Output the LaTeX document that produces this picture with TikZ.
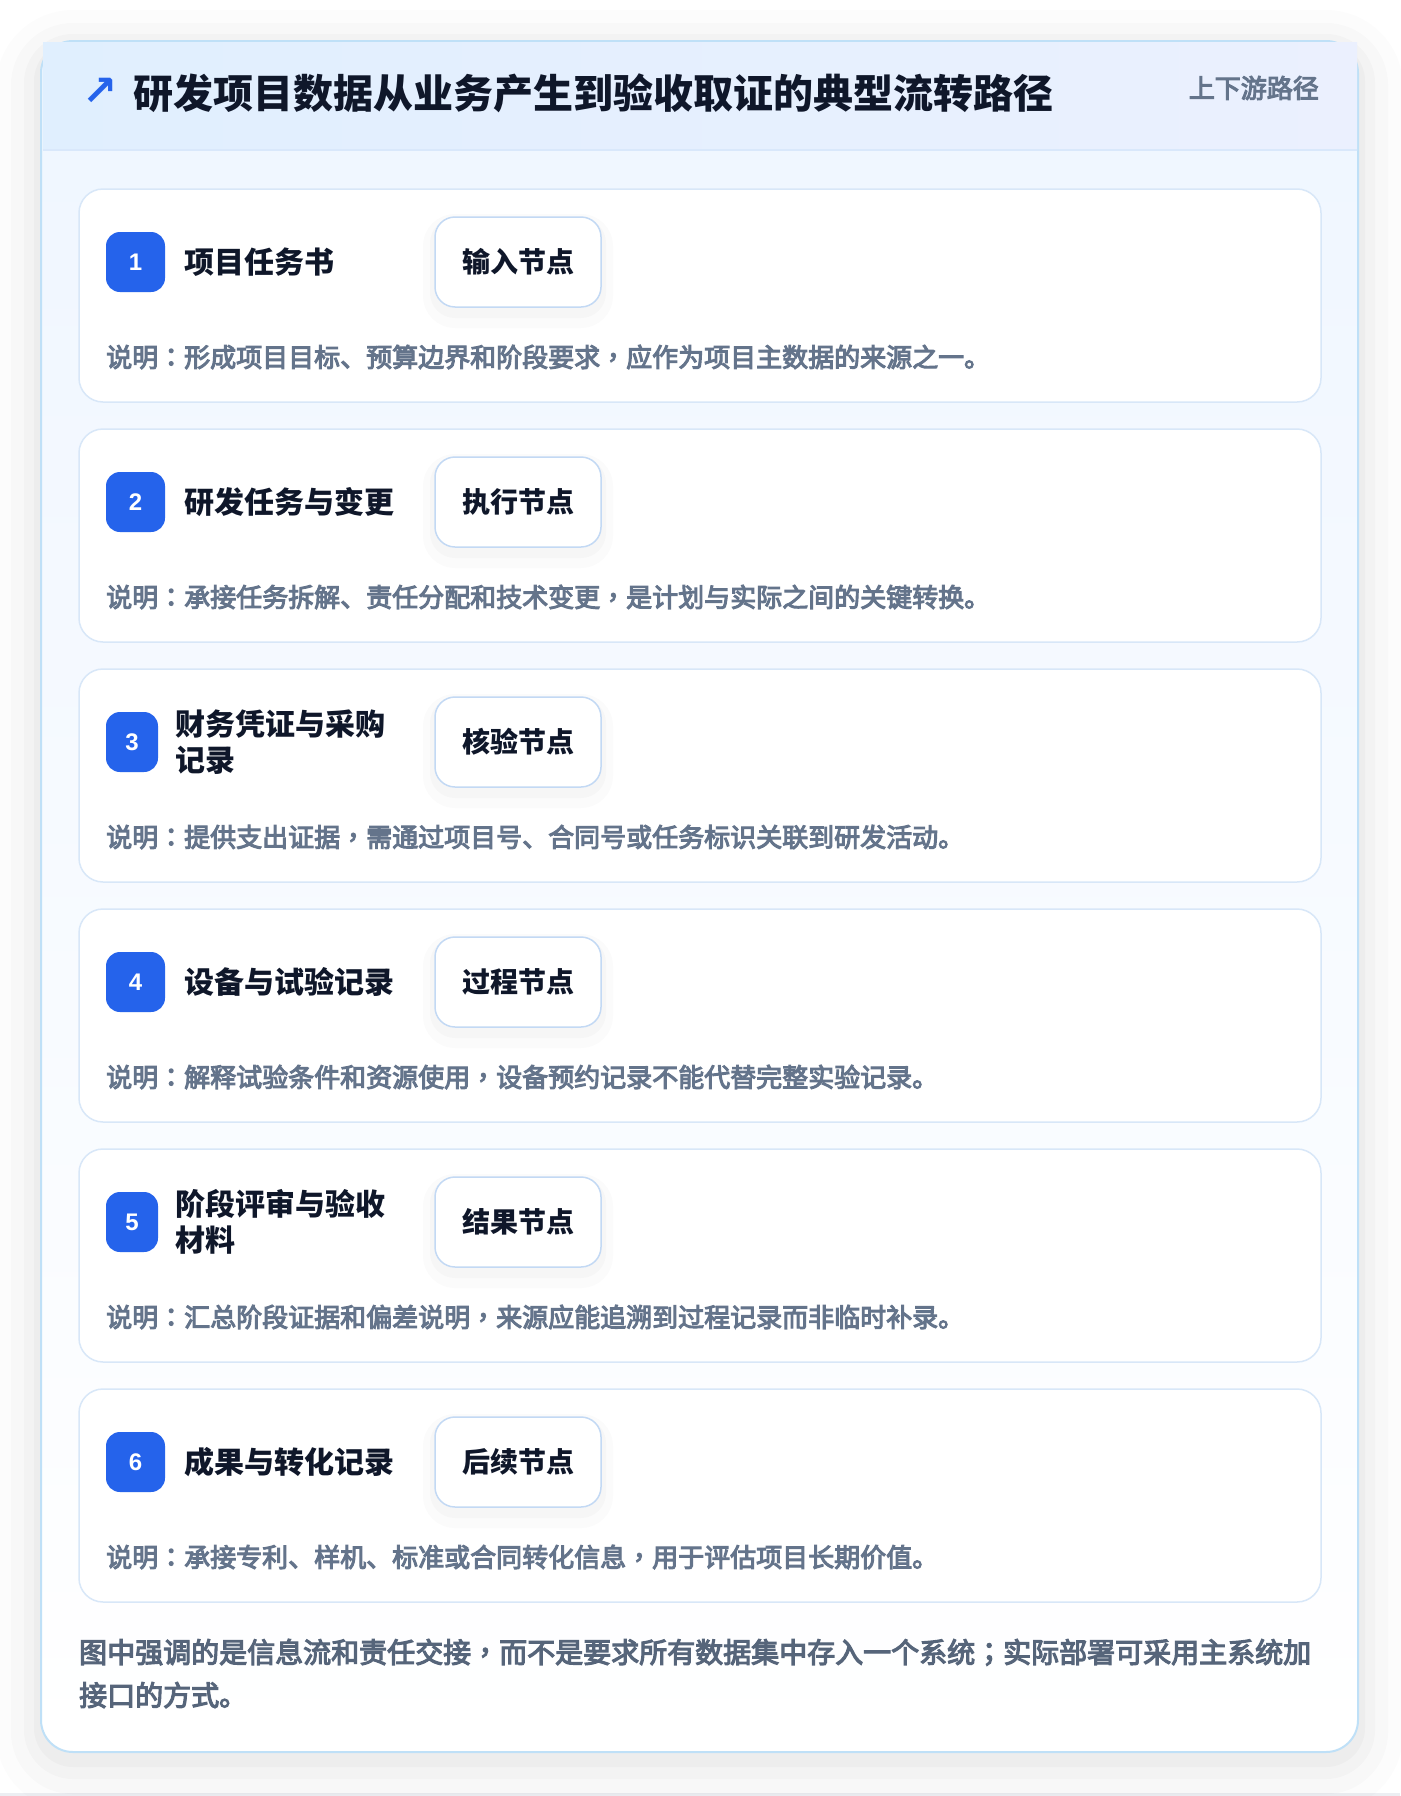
\documentclass[tikz,border=0pt]{standalone}
\usepackage{fontspec}
\setmainfont{Noto Sans CJK SC}
\newfontfamily\symfont{DejaVu Sans}
\newfontfamily\numfont{Liberation Sans}
\newfontfamily\notefont{Noto Sans CJK SC}[FakeBold=4]
\newfontfamily\notetc{Noto Sans CJK TC}[FakeBold=4]
\newcommand{\tcp}[1]{{\notetc #1}}
\usetikzlibrary{positioning}

\definecolor{ink}{HTML}{0F172A}
\definecolor{muted}{HTML}{64748B}
\definecolor{footink}{HTML}{56657A}
\definecolor{brand}{HTML}{2563EB}
\definecolor{rim}{HTML}{BFE0F7}
\definecolor{cardline}{HTML}{D8E7F8}
\definecolor{tagline}{HTML}{C3D9F4}
\definecolor{headL}{HTML}{E0EFFE}
\definecolor{headR}{HTML}{EBF0FE}
\definecolor{headline}{HTML}{D9E8FB}
\definecolor{bodytop}{HTML}{EFF6FF}
\definecolor{pagegray}{HTML}{ECEEF2}

\begin{document}
\begin{tikzpicture}[x=1pt, y=1pt, node distance=27pt,
    panel/.style = {draw=rim, line width=2pt, rounded corners=32pt, top color=bodytop, bottom color=white,
      minimum width=1317pt, minimum height=1711pt, inner sep=0pt, outer sep=0pt,
      preaction={draw=black, draw opacity=0.012, line width=90pt, transform canvas={yshift=-14pt}},
      preaction={draw=black, draw opacity=0.015, line width=60pt, transform canvas={yshift=-12pt}},
      preaction={draw=black, draw opacity=0.02, line width=34pt, transform canvas={yshift=-10pt}},
      preaction={draw=black, draw opacity=0.025, line width=14pt, transform canvas={yshift=-8pt}}},
    header/.style = {left color=headL, right color=headR, minimum width=1314pt, minimum height=108pt, inner sep=0pt},
    card/.style = {draw=cardline, line width=1.5pt, fill=white, rounded corners=24pt,
      minimum width=1242pt, minimum height=213pt, inner sep=0pt, outer sep=0pt},
    badge/.style = {fill=brand, text=white, rounded corners=14pt, minimum width=59pt, minimum height=60pt,
      inner sep=0pt, font=\numfont\fontsize{24}{28}\selectfont\bfseries},
    slim/.style = {minimum width=52pt},
    item/.style = {text=ink, inner sep=0pt, align=left, font=\fontsize{30}{36}\selectfont\bfseries},
    tag/.style = {draw=tagline, line width=1.5pt, fill=white, rounded corners=20pt, minimum width=166pt,
      minimum height=90pt, inner sep=0pt, text=ink, font=\fontsize{28}{32}\selectfont\bfseries,
      preaction={draw=black, draw opacity=0.015, line width=24pt, transform canvas={yshift=-9pt}},
      preaction={draw=black, draw opacity=0.02, line width=10pt, transform canvas={yshift=-6pt}}},
    note/.style = {anchor=west, text=muted, inner sep=0pt, font=\notefont\fontsize{26}{31}\selectfont},
    foot/.style = {anchor=west, text=footink, inner sep=0pt, align=left, font=\notefont\fontsize{28}{43}\selectfont}]

    \useasboundingbox (0,0) rectangle (1400,-1796);
    \fill[white] (0,0) rectangle (1400,-1796);
    \fill[pagegray] (0,-1793) rectangle (1400,-1796);

    \node[panel] (panel) at (699.5,-896.5) {};
    \node[header] (head) at (700,-96) {};
    \draw[headline, line width=1.5pt] (head.south west) -- (head.south east);
    \node[text=brand, inner sep=0pt, font=\symfont\fontsize{42}{42}\selectfont\bfseries] (icon) at (100,-92) {↗};
    \node[anchor=west, text=ink, inner sep=0pt, font=\fontsize{40}{46}\selectfont\bfseries] (title) at (133,-93)
      {研发项目数据从业务产生到验收取证的典型流转路径};
    \node[anchor=east, text=muted, inner sep=0pt, font=\notefont\fontsize{26}{30}\selectfont] (side) at (1319,-88)
      {上下游路径};

    \node[card] (c1) at (700,-295.5) {};
    \node[card, below=of c1] (c2) {};
    \node[card, below=of c2] (c3) {};
    \node[card, below=of c3] (c4) {};
    \node[card, below=of c4] (c5) {};
    \node[card, below=of c5] (c6) {};

    \node[badge] (b1) at ([shift={(56.5,-73)}]c1.north west) {1};
    \node[item, right=19pt of b1] (t1) {项目任务书};
    \node[tag] (g1) at ([shift={(439,-73)}]c1.north west) {输入节点};
    \node[note] (d1) at ([shift={(27,-168)}]c1.north west) {说明\tcp{：}形成项目目标、预算边界和阶段要求\tcp{，}应作为项目主数据的来源之一。};

    \node[badge] (b2) at ([shift={(56.5,-73)}]c2.north west) {2};
    \node[item, right=19pt of b2] (t2) {研发任务与变更};
    \node[tag] (g2) at ([shift={(439,-73)}]c2.north west) {执行节点};
    \node[note] (d2) at ([shift={(27,-168)}]c2.north west) {说明\tcp{：}承接任务拆解、责任分配和技术变更\tcp{，}是计划与实际之间的关键转换。};

    \node[badge, slim] (b3) at ([shift={(53,-73)}]c3.north west) {3};
    \node[item, right=17pt of b3] (t3) {财务凭证与采购\\记录};
    \node[tag] (g3) at ([shift={(439,-73)}]c3.north west) {核验节点};
    \node[note] (d3) at ([shift={(27,-168)}]c3.north west) {说明\tcp{：}提供支出证据\tcp{，}需通过项目号、合同号或任务标识关联到研发活动。};

    \node[badge] (b4) at ([shift={(56.5,-73)}]c4.north west) {4};
    \node[item, right=19pt of b4] (t4) {设备与试验记录};
    \node[tag] (g4) at ([shift={(439,-73)}]c4.north west) {过程节点};
    \node[note] (d4) at ([shift={(27,-168)}]c4.north west) {说明\tcp{：}解释试验条件和资源使用\tcp{，}设备预约记录不能代替完整实验记录。};

    \node[badge, slim] (b5) at ([shift={(53,-73)}]c5.north west) {5};
    \node[item, right=17pt of b5] (t5) {阶段评审与验收\\材料};
    \node[tag] (g5) at ([shift={(439,-73)}]c5.north west) {结果节点};
    \node[note] (d5) at ([shift={(27,-168)}]c5.north west) {说明\tcp{：}汇总阶段证据和偏差说明\tcp{，}来源应能追溯到过程记录而非临时补录。};

    \node[badge] (b6) at ([shift={(56.5,-73)}]c6.north west) {6};
    \node[item, right=19pt of b6] (t6) {成果与转化记录};
    \node[tag] (g6) at ([shift={(439,-73)}]c6.north west) {后续节点};
    \node[note] (d6) at ([shift={(27,-168)}]c6.north west) {说明\tcp{：}承接专利、样机、标准或合同转化信息\tcp{，}用于评估项目长期价值。};

    \node[foot] (foot) at (79,-1673.5)
      {图中强调的是信息流和责任交接\tcp{，}而不是要求所有数据集中存入一个系统\tcp{；}实际部署可采用主系统加\\接口的方式。};
\end{tikzpicture}
\end{document}
